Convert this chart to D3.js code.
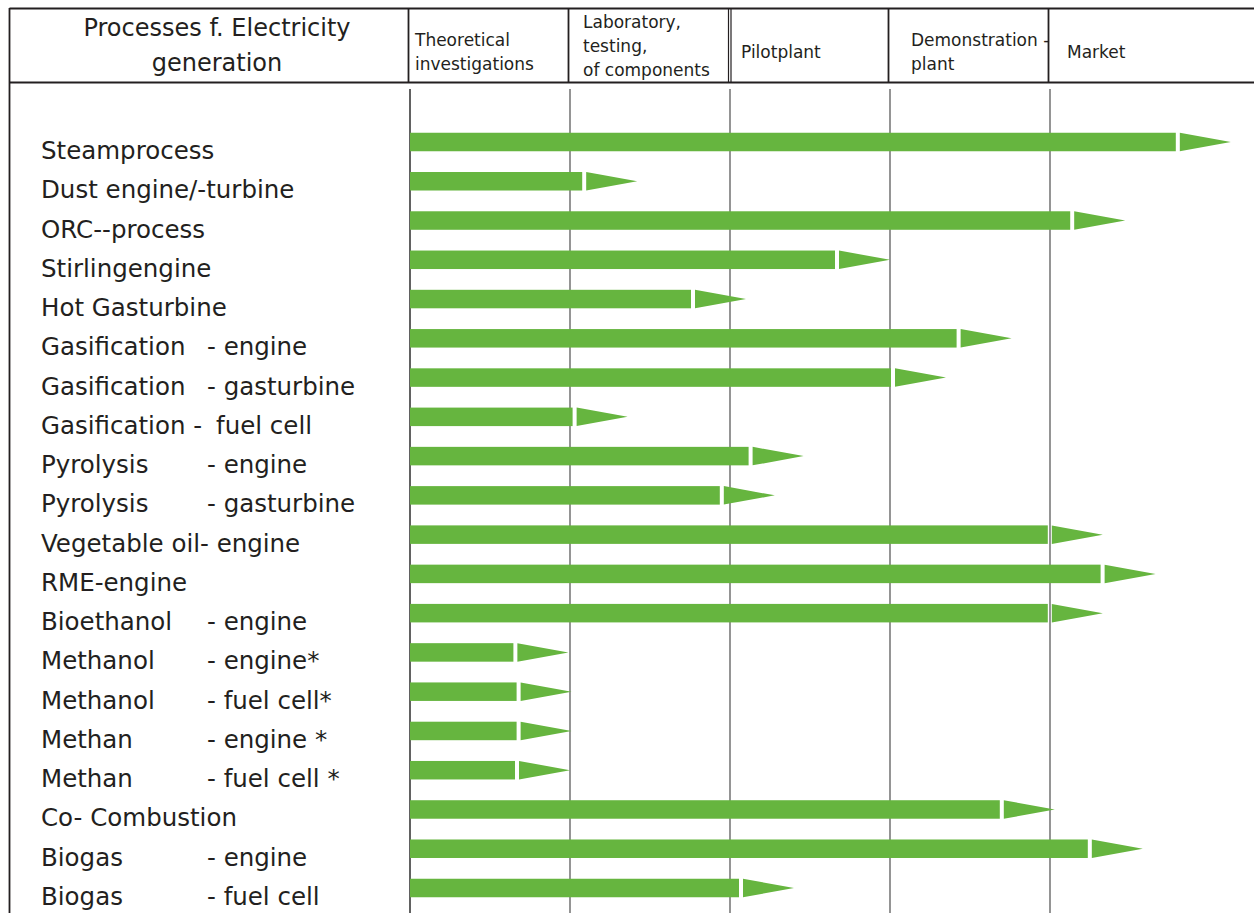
<!DOCTYPE html>
<html><head><meta charset="utf-8">
<script src="https://cdn.jsdelivr.net/npm/d3@7"></script>
<style>
html,body{margin:0;padding:0;background:#fff;}
svg{display:block;}
text{font-family:"DejaVu Sans",sans-serif;fill:#231f20;}
</style></head>
<body>
<svg id="chart" width="1254" height="913"></svg>
<script>
// ---- data ----
const titleLines = ["Processes f. Electricity", "generation"];
const stageLines = [
  ["Theoretical", "investigations"],
  ["Laboratory,", "testing,", "of components"],
  ["Pilotplant"],
  ["Demonstration -", "plant"],
  ["Market"]
];
const processMain = [
  "Steamprocess", "Dust engine/-turbine", "ORC--process", "Stirlingengine", "Hot Gasturbine",
  "Gasification", "Gasification", "Gasification -", "Pyrolysis", "Pyrolysis",
  "Vegetable oil- engine", "RME-engine", "Bioethanol", "Methanol", "Methanol",
  "Methan", "Methan", "Co- Combustion", "Biogas", "Biogas"
];
const processSuffix = [
  "", "", "", "", "",
  "-  engine", "- gasturbine", "fuel cell", "- engine", "- gasturbine",
  "", "", "- engine", "- engine*", "- fuel cell*",
  "- engine *", "- fuel cell *", "", "- engine", "- fuel cell"
];
// development stage reached (arrow tip), in stage units (0 = start of theoretical investigations)
const stageReached = [
  5.13, 1.42, 4.47, 3.00, 2.10,
  3.76, 3.35, 1.36, 2.46, 2.28,
  4.33, 4.66, 4.33, 0.99, 1.01,
  1.01, 1.00, 4.03, 4.58, 2.40
];

// ---- layout ----
const svg = d3.select("#chart");
const W = 1254, H = 913;
const x = d3.scaleLinear().domain([0, 5]).range([410, 1210]);
const y = d3.scalePoint().domain(d3.range(processMain.length)).range([142, 888]);
const green = "#66b53f";
const arrowLen = 51, gap = 4, bh = 18.5;

// header frame
const frame = svg.append("g").attr("stroke", "#231f20").attr("stroke-width", 1.8).attr("fill", "none");
frame.append("line").attr("x1", 9.5).attr("x2", W).attr("y1", 8.5).attr("y2", 8.5);
frame.append("line").attr("x1", 9.5).attr("x2", W).attr("y1", 82.5).attr("y2", 82.5);
frame.append("line").attr("x1", 9.5).attr("x2", 9.5).attr("y1", 8).attr("y2", H);
const divs = [0, 1, 2, 2, 3, 4];
frame.selectAll("line.div").data(divs).join("line").attr("class", "div")
  .attr("x1", (d, i) => x(d) - 1.5 + (i === 3 ? 2.5 : 0))
  .attr("x2", (d, i) => x(d) - 1.5 + (i === 3 ? 2.5 : 0))
  .attr("y1", 8.5).attr("y2", 82.5)
  .attr("stroke-width", (d, i) => (i === 2 || i === 3) ? 1.2 : 1.8);

// title
svg.append("g").selectAll("text").data(titleLines).join("text")
  .attr("x", 217).attr("y", (d, i) => 36 + i * 35)
  .attr("text-anchor", "middle").attr("font-size", 24).text(d => d);

// stage headers
const sg = svg.append("g");
const offs = [5, 13, 11, 21, 17];
stageLines.forEach((lines, s) => {
  const n = lines.length;
  const y0 = n === 3 ? 28 : (n === 2 ? 46 : 58);
  sg.selectAll(null).data(lines).join("text")
    .attr("x", x(s) + offs[s]).attr("y", (d, i) => y0 + i * 24)
    .attr("font-size", 17).text(d => d);
});

// body grid lines
svg.append("g").selectAll("line").data(d3.range(5)).join("line")
  .attr("x1", d => x(d)).attr("x2", d => x(d))
  .attr("y1", 89).attr("y2", H)
  .attr("stroke", (d) => d === 0 ? "#3a3a3a" : "#7a7a7a")
  .attr("stroke-width", 1.6);

// bars
const bars = svg.append("g");
bars.selectAll("rect").data(stageReached).join("rect")
  .attr("x", x(0)).attr("y", (d, i) => y(i) - bh / 2)
  .attr("width", d => x(d) - arrowLen - gap - x(0))
  .attr("height", bh).attr("fill", green);
bars.selectAll("path").data(stageReached).join("path")
  .attr("d", (d, i) => {
    const tip = x(d), st = tip - arrowLen, yc = y(i);
    return `M${st},${yc - bh / 2}L${tip},${yc}L${st},${yc + bh / 2}Z`;
  })
  .attr("fill", green);

// labels
const lg = svg.append("g");
processMain.forEach((m, i) => {
  const by = y(i) + 17;
  const t = lg.append("text").attr("x", 41).attr("y", by).attr("font-size", 24.5).text(m);
  if (processSuffix[i]) {
    const end = 41 + t.node().getComputedTextLength();
    lg.append("text").attr("x", Math.max(207, end + 14)).attr("y", by)
      .attr("font-size", 24.5).text(processSuffix[i]);
  }
});
</script>
</body></html>
